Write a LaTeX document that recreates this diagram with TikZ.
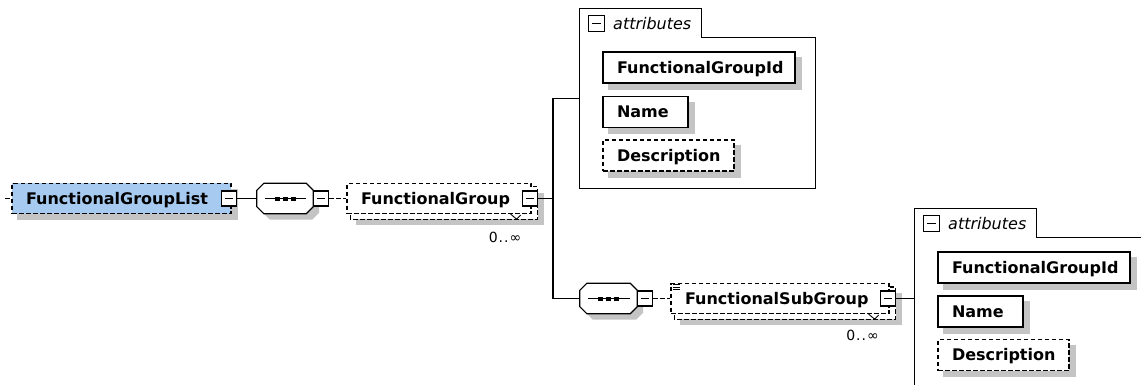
\documentclass[tikz,border=0pt]{standalone}
\usepackage{fontspec}
\setmainfont{DejaVu Sans}[BoldFont={DejaVu Sans Bold},ItalicFont={DejaVu Sans Oblique}]
\pgfdeclarelayer{background}
\pgfsetlayers{background,main}
\definecolor{elemblue}{RGB}{166,202,240}
\definecolor{shadowgray}{RGB}{196,196,196}

\tikzset{
  link/.style={line width=1.2pt},
  optional/.style={dash pattern=on 4.5pt off 2.5pt},
  box/.style={draw, line width=1.2pt, fill=white, minimum height=30pt,
    inner xsep=14pt, inner ysep=0pt, align=left,
    font=\bfseries\fontsize{16}{16}\selectfont, text height=11.7pt, text depth=0pt},
  minusbox/.style={draw, line width=1.2pt, fill=white, minimum size=15pt, inner sep=0pt,
    path picture={\draw[line width=1.2pt] ([xshift=3.5pt]path picture bounding box.west)
      -- ([xshift=-3.5pt]path picture bounding box.east);}},
  seqframe/.style={draw=none, minimum width=56pt, minimum height=30pt, inner sep=0pt},
  attrframe/.style={draw=none, minimum width=235pt, minimum height=180pt, inner sep=0pt},
  occurs/.style={font=\fontsize{14}{14}\selectfont, inner sep=0pt},
  attrlabel/.style={font=\itshape\fontsize{16}{16}\selectfont, inner sep=0pt, anchor=base west},
}

% chamfered outline of a sequence compositor, optionally shifted
\newcommand\octagon[2]{%
  ([shift={(#2)},xshift=7pt]#1.north west) -- ([shift={(#2)},xshift=-7pt]#1.north east)
  -- ([shift={(#2)},yshift=-7pt]#1.north east) -- ([shift={(#2)},yshift=7pt]#1.south east)
  -- ([shift={(#2)},xshift=-7pt]#1.south east) -- ([shift={(#2)},xshift=7pt]#1.south west)
  -- ([shift={(#2)},yshift=7pt]#1.south west) -- ([shift={(#2)},yshift=-7pt]#1.north west) -- cycle}
% sequence symbol: octagon, line and three dots
\newcommand\seqsymbol[1]{%
  \begin{pgfonlayer}{background}
    \fill[shadowgray] \octagon{#1}{6pt,-6pt};
  \end{pgfonlayer}
  \draw[link, fill=white] \octagon{#1}{0pt,0pt};
  \draw[link] ([xshift=8pt]#1.west) -- ([xshift=-7pt]#1.east);
  \foreach \dx in {-8,0,8}
    \fill ([shift={(\dx pt-2.5pt,-2pt)}]#1.center) rectangle ([shift={(\dx pt+2.5pt,2pt)}]#1.center);}
% drop shadow of a rectangular node
\newcommand\boxshadow[1]{%
  \begin{pgfonlayer}{background}
    \fill[shadowgray] ([shift={(6pt,-6pt)}]#1.north west) rectangle ([shift={(6pt,-6pt)}]#1.south east);
  \end{pgfonlayer}}
% second copy and shadow behind a repeatable element, with its marker
\newcommand\repeated[1]{%
  \begin{pgfonlayer}{background}
    \fill[shadowgray] ([shift={(10pt,-10pt)}]#1.north west) rectangle ([shift={(12pt,-11pt)}]#1.south east);
    \draw[link, optional, fill=white] ([shift={(4pt,-4pt)}]#1.north west) rectangle ([shift={(6pt,-5pt)}]#1.south east);
  \end{pgfonlayer}
  \draw[line width=0.9pt] ([shift={(-21pt,0pt)}]#1.south east) -- ([shift={(-15pt,-5pt)}]#1.south east)
    -- ([shift={(-11pt,-1pt)}]#1.south east);}
% attributes container with its tab
\newcommand\attrtab[1]{%
  \draw[link] (#1.south west) -- (#1.north west) -- ([xshift=122pt]#1.north west)
    -- ([xshift=122pt,yshift=-29.5pt]#1.north west) -- ([yshift=-29.5pt]#1.north east)
    -- (#1.south east) -- cycle;}

\begin{document}
\begin{tikzpicture}[x=1pt,y=-1pt]
\useasboundingbox (0,0) rectangle (1141,385);
\begin{pgfonlayer}{background}
  \fill[white] (0,0) rectangle (1141,385);
\end{pgfonlayer}
\clip (0,0) rectangle (1141,385);

% ---- root element and its sequence
\coordinate (entry) at (5,198.5);
\node[box, optional, fill=elemblue, text width=191pt] (fgl) at (121.5,198.5) {FunctionalGroupList};
\boxshadow{fgl}
\node[minusbox] (m1) at (229,198.5) {};
\node[seqframe] (seq1) at (285,198.5) {};
\seqsymbol{seq1}
\node[minusbox] (m2) at (321,198.5) {};

% ---- FunctionalGroup (0..unbounded)
\node[box, optional, text width=156pt] (fg) at (439,198.5) {FunctionalGroup};
\repeated{fg}
\node[minusbox] (m3) at (530,198.5) {};
\node[occurs] (occ1) at (505,237) {0\kern1pt.\kern1pt.\kern1pt∞};
\coordinate (fork) at (553,198.5);

% ---- attributes of FunctionalGroup
\node[attrframe] (attr1) at (697.5,98.5) {};
\attrtab{attr1}
\node[minusbox, minimum size=16pt] (t1) at (596.5,23.5) {};
\node[attrlabel] (lab1) at (613,29.5) {attributes};
\node[box, text width=164pt, minimum height=31pt] (gid1) at (699,67.5) {FunctionalGroupId};
\node[box, text width=57pt, minimum height=31pt] (name1) at (645.5,112) {Name};
\node[box, optional, text width=103pt, minimum height=31pt] (desc1) at (668.5,155.5) {Description};
\boxshadow{gid1}\boxshadow{name1}\boxshadow{desc1}

% ---- nested sequence and FunctionalSubGroup (0..unbounded)
\node[seqframe, minimum width=57pt] (seq2) at (608.5,298.5) {};
\seqsymbol{seq2}
\node[minusbox] (m4) at (645,298.5) {};
\node[box, optional, text width=190pt] (fsg) at (780,298.5) {FunctionalSubGroup};
\repeated{fsg}
\foreach \dy in {1.5,4,6.5}
  \draw[line width=0.8pt] ([shift={(3pt,-\dy pt)}]fsg.north west) -- ([shift={(10pt,-\dy pt)}]fsg.north west);
\node[minusbox] (m5) at (888,298.5) {};
\node[occurs] (occ2) at (862.5,335) {0\kern1pt.\kern1pt.\kern1pt∞};

% ---- attributes of FunctionalSubGroup
\node[attrframe] (attr2) at (1032.5,298.5) {};
\attrtab{attr2}
\node[minusbox, minimum size=16pt] (t2) at (931.5,223.5) {};
\node[attrlabel] (lab2) at (948,229.5) {attributes};
\node[box, text width=164pt, minimum height=31pt] (gid2) at (1034,267.5) {FunctionalGroupId};
\node[box, text width=57pt, minimum height=31pt] (name2) at (980.5,311.5) {Name};
\node[box, optional, text width=103pt, minimum height=31pt] (desc2) at (1003.5,355) {Description};
\boxshadow{gid2}\boxshadow{name2}\boxshadow{desc2}

% ---- connectors
\draw[link, optional] (entry) -- (fgl.west);
\draw[link] (m1.east) -- (seq1.west);
\draw[link, optional] (m2.east) -- (fg.west);
\draw[link] (m3.east) -- (fork);
\draw[link] (attr1.west) -| (fork) |- (seq2.west);
\draw[link, optional] (m4.east) -- (fsg.west);
\draw[link] (m5.east) -- (attr2.west);
\end{tikzpicture}
\end{document}
